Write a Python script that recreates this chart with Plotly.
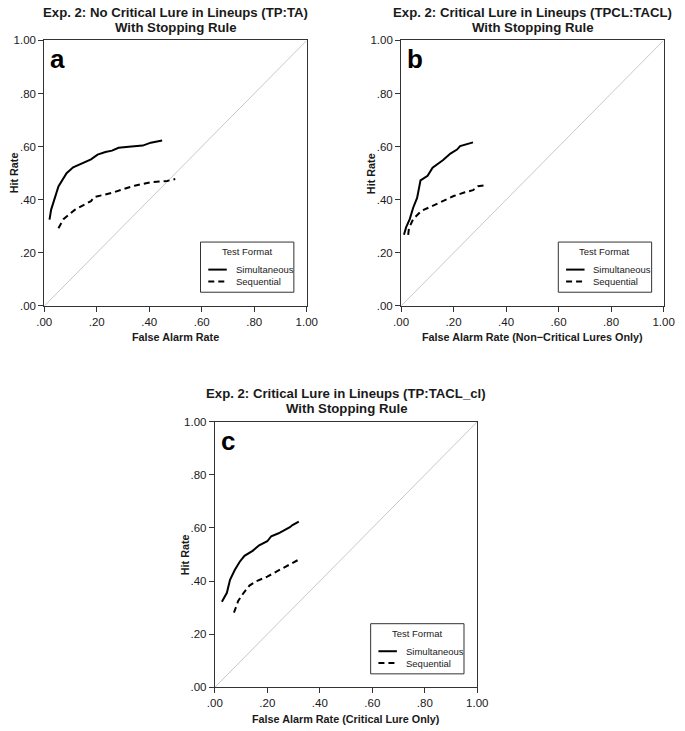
import plotly.graph_objects as go

W, H = 685, 731

# ---------------- data ----------------
tick_vals = [0, 0.2, 0.4, 0.6, 0.8, 1.0]
tick_text = [".00", ".20", ".40", ".60", ".80", "1.00"]

a_sim_x = [0.020, 0.026, 0.054, 0.085, 0.110, 0.147, 0.178, 0.203, 0.233, 0.258, 0.283, 0.332, 0.375, 0.406, 0.449]
a_sim_y = [0.325, 0.362, 0.450, 0.500, 0.522, 0.537, 0.552, 0.570, 0.580, 0.585, 0.596, 0.601, 0.604, 0.615, 0.623]
a_seq_x = [0.054, 0.073, 0.116, 0.147, 0.178, 0.190, 0.221, 0.258, 0.295, 0.344, 0.406, 0.468, 0.499]
a_seq_y = [0.293, 0.327, 0.362, 0.377, 0.395, 0.410, 0.416, 0.426, 0.438, 0.453, 0.466, 0.471, 0.478]

b_sim_x = [0.011, 0.019, 0.033, 0.046, 0.061, 0.074, 0.101, 0.120, 0.159, 0.188, 0.213, 0.225, 0.274]
b_sim_y = [0.268, 0.296, 0.327, 0.370, 0.407, 0.473, 0.490, 0.521, 0.549, 0.574, 0.589, 0.602, 0.616]
b_seq_x = [0.027, 0.030, 0.046, 0.077, 0.120, 0.163, 0.200, 0.243, 0.274, 0.293, 0.317]
b_seq_y = [0.268, 0.293, 0.327, 0.358, 0.377, 0.397, 0.414, 0.428, 0.436, 0.451, 0.454]

c_sim_x = [0.027, 0.046, 0.058, 0.076, 0.095, 0.113, 0.144, 0.169, 0.200, 0.215, 0.243, 0.268, 0.286, 0.296, 0.320]
c_sim_y = [0.322, 0.356, 0.405, 0.442, 0.473, 0.495, 0.514, 0.535, 0.550, 0.569, 0.580, 0.593, 0.603, 0.611, 0.624]
c_seq_x = [0.073, 0.089, 0.110, 0.132, 0.157, 0.200, 0.243, 0.280, 0.320]
c_seq_y = [0.281, 0.325, 0.356, 0.383, 0.399, 0.417, 0.440, 0.461, 0.481]

titles = [
    ["Exp. 2: No Critical Lure in Lineups (TP:TA)", "With Stopping Rule"],
    ["Exp. 2: Critical Lure in Lineups (TPCL:TACL)", "With Stopping Rule"],
    ["Exp. 2: Critical Lure in Lineups (TP:TACL_cl)", "With Stopping Rule"],
]
xtitles = ["False Alarm Rate", "False Alarm Rate (Non\u2212Critical Lures Only)", "False Alarm Rate (Critical Lure Only)"]
ytitle = "Hit Rate"
letters = ["a", "b", "c"]
legend_title = "Test Format"
series_names = ["Simultaneous", "Sequential"]

# ---------------- layout geometry (pixels) ----------------
# panel boxes: (left, right, top, bottom)
boxes = [(37.3, 307.3, 35.0, 305.0), (404.3, 674.3, 35.0, 305.0), (212.7, 482.7, 422.7, 692.7)]
# legend boxes: (left, top, right, bottom)
legend_boxes = [(198, 240, 294, 291), (566, 240, 662, 291), (373, 628, 469, 679)]

def px_x(p):
    return p / W

def px_y(p):
    return 1 - p / H

FONT = "Liberation Sans, Arial, Helvetica, sans-serif"
AX = "#333333"
TXT = "#1a1a1a"

fig = go.Figure()

data = [
    (a_sim_x, a_sim_y, a_seq_x, a_seq_y),
    (b_sim_x, b_sim_y, b_seq_x, b_seq_y),
    (c_sim_x, c_sim_y, c_seq_x, c_seq_y),
]

layout = dict(
    width=W, height=H,
    margin=dict(l=0, r=0, t=0, b=0),
    paper_bgcolor="white", plot_bgcolor="white",
    font=dict(family=FONT, color=TXT, size=11),
    showlegend=False,
    annotations=[], shapes=[],
)

DASH = "6px,4px"

for i, (sx, sy, qx, qy) in enumerate(data):
    n = "" if i == 0 else str(i + 1)
    xa, ya = "x" + n, "y" + n
    # diagonal reference line
    fig.add_trace(go.Scatter(x=[0, 1], y=[0, 1], mode="lines", line=dict(color="#c8c8c8", width=1),
                             hoverinfo="skip", xaxis=xa, yaxis=ya))
    fig.add_trace(go.Scatter(x=sx, y=sy, mode="lines", name=series_names[0],
                             line=dict(color="black", width=2), xaxis=xa, yaxis=ya))
    fig.add_trace(go.Scatter(x=qx, y=qy, mode="lines", name=series_names[1],
                             line=dict(color="black", width=2, dash=DASH), xaxis=xa, yaxis=ya))
    l, r, t, b = boxes[i]
    axis_common = dict(range=[0, 1], tickvals=tick_vals, ticktext=tick_text, showgrid=False, zeroline=False,
                       showline=True, linecolor=AX, linewidth=1, mirror=True, ticks="outside", ticklen=5,
                       tickcolor=AX, tickfont=dict(size=11.5, color=TXT), fixedrange=True)
    layout["xaxis" + n] = dict(axis_common, domain=[px_x(l), px_x(r)], anchor=ya)
    layout["yaxis" + n] = dict(axis_common, domain=[px_y(b), px_y(t)], anchor=xa)
    cx = (l + r) / 2
    # title (two lines)
    for k, line in enumerate(titles[i]):
        layout["annotations"].append(dict(text="<b>" + line + "</b>", xref="paper", yref="paper",
                                          x=px_x(cx), y=px_y(t - 28.5 + 15.5 * k), xanchor="center", yanchor="middle",
                                          showarrow=False, font=dict(size=13.2)))
    # x title
    layout["annotations"].append(dict(text="<b>" + xtitles[i] + "</b>", xref="paper", yref="paper",
                                      x=px_x(cx), y=px_y(b + 32), xanchor="center", yanchor="middle",
                                      showarrow=False, font=dict(size=10.8)))
    # y title
    layout["annotations"].append(dict(text="<b>" + ytitle + "</b>", xref="paper", yref="paper",
                                      x=px_x(l - 31), y=px_y((t + b) / 2), xanchor="center", yanchor="middle",
                                      textangle=-90, showarrow=False, font=dict(size=10.8)))
    # panel letter
    layout["annotations"].append(dict(text="<b>" + letters[i] + "</b>", xref="paper", yref="paper",
                                      x=px_x(l + 4), y=px_y(t + 2), xanchor="left", yanchor="top",
                                      showarrow=False, font=dict(size=26, color="black")))
    # legend (box, title, line samples, labels)
    L, T, R, B = legend_boxes[i]
    layout["shapes"].append(dict(type="rect", xref="paper", yref="paper", x0=px_x(L), x1=px_x(R),
                                 y0=px_y(B), y1=px_y(T), line=dict(color=AX, width=1), fillcolor="white", layer="above"))
    layout["annotations"].append(dict(text=legend_title, xref="paper", yref="paper", x=px_x((L + R) / 2),
                                      y=px_y(T + 10), xanchor="center", yanchor="middle", showarrow=False,
                                      font=dict(size=9.5)))
    for k, (nm, dash) in enumerate(zip(series_names, ["solid", DASH])):
        yy = px_y(T + 28 + 12 * k)
        layout["shapes"].append(dict(type="line", xref="paper", yref="paper", x0=px_x(L + 8), x1=px_x(L + 27),
                                     y0=yy, y1=yy, line=dict(color="black", width=2, dash=dash), layer="above"))
        layout["annotations"].append(dict(text=nm, xref="paper", yref="paper", x=px_x(L + 34), y=yy,
                                          xanchor="left", yanchor="middle", showarrow=False, font=dict(size=9.5)))

fig.update_layout(**layout)
fig.write_html("out.html", config={"displayModeBar": False},
               post_script="document.body.style.margin='0';document.body.style.overflow='hidden';")
